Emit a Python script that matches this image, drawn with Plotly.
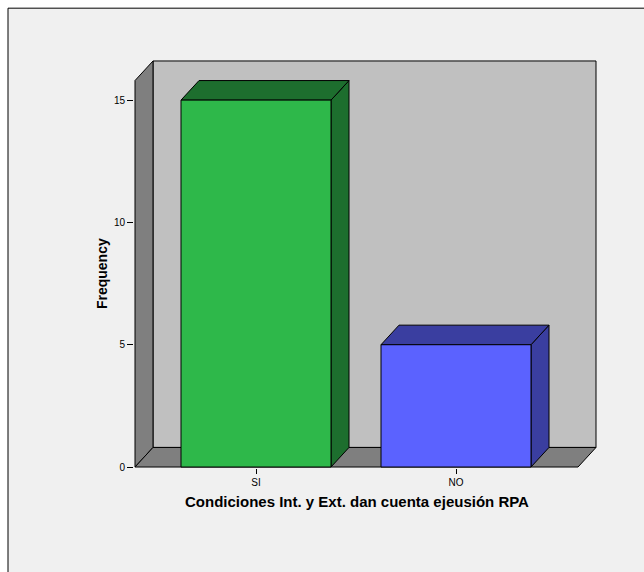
import plotly.graph_objects as go

# Frequency chart: "Condiciones Int. y Ext. dan cuenta ejeusión RPA"
categories = ["SI", "NO"]
frequencies = [15, 5]
front_colors = ["#2eb84a", "#5b62ff"]
shade_colors = ["#1d6e2e", "#3a3ea0"]
y_tick_values = [0, 5, 10, 15]

# Figure size and 3D-box geometry (in axis units)
W, H = 644, 572
bar_w = 0.75          # bar width in category units
depth_x = 0.09        # depth offset of the 3D box along x
depth_y = 0.8         # depth offset of the 3D box along y
x_left, x_right = -0.605, 1.61   # front floor edges
y_top = 15.8                     # top of the front wall

x_range = [x_left - 0.005, x_right + depth_x + 0.005]
y_range = [-0.04, y_top + depth_y + 0.04]

px_per_x = 200.0
px_per_y = 24.47
plot_w = (x_range[1] - x_range[0]) * px_per_x
plot_h = (y_range[1] - y_range[0]) * px_per_y
m_l = 134
m_b = 104
m_r = W - m_l - plot_w
m_t = H - m_b - plot_h

fig = go.Figure()


def poly(xs, ys, color):
    fig.add_trace(go.Scatter(
        x=list(xs) + [xs[0]], y=list(ys) + [ys[0]],
        mode="lines", fill="toself", fillcolor=color,
        line=dict(color="black", width=1),
        hoverinfo="skip", showlegend=False,
    ))


# Back wall, left wall and floor of the box
poly([x_left + depth_x, x_right + depth_x, x_right + depth_x, x_left + depth_x],
     [depth_y, depth_y, y_top + depth_y, y_top + depth_y], "#c0c0c0")
poly([x_left, x_left + depth_x, x_left + depth_x, x_left],
     [0, depth_y, y_top + depth_y, y_top], "#7f7f7f")
poly([x_left, x_right, x_right + depth_x, x_left + depth_x],
     [0, 0, depth_y, depth_y], "#7f7f7f")

# 3D bars: side face, top face, front face
for i, (cat, val) in enumerate(zip(categories, frequencies)):
    x0, x1 = i - bar_w / 2, i + bar_w / 2
    poly([x1, x1 + depth_x, x1 + depth_x, x1],
         [0, depth_y, val + depth_y, val], shade_colors[i])
    poly([x0, x1, x1 + depth_x, x0 + depth_x],
         [val, val, val + depth_y, val + depth_y], shade_colors[i])
    poly([x0, x1, x1, x0], [0, 0, val, val], front_colors[i])


def px_to_paper_x(px):
    return (px - m_l) / plot_w


def px_to_paper_y(py):
    return (H - m_b - py) / plot_h


# Outer frame around the chart
fig.add_shape(type="rect", xref="paper", yref="paper",
              x0=px_to_paper_x(8), x1=px_to_paper_x(W + 20),
              y0=px_to_paper_y(H + 20), y1=px_to_paper_y(8),
              line=dict(color="black", width=1), fillcolor="#f0f0f0",
              layer="below")

font = "Arial, 'Liberation Sans', sans-serif"

fig.update_layout(
    width=W, height=H,
    margin=dict(l=m_l, r=m_r, t=m_t, b=m_b, pad=0),
    paper_bgcolor="white",
    plot_bgcolor="rgba(0,0,0,0)",
    showlegend=False,
    xaxis=dict(
        range=x_range, showgrid=False, zeroline=False, showline=False,
        tickmode="array", tickvals=list(range(len(categories))), ticktext=categories,
        ticks="outside", ticklen=5, tickcolor="black",
        tickfont=dict(family=font, size=10, color="black"),
        fixedrange=True,
    ),
    yaxis=dict(
        range=y_range, showgrid=False, zeroline=False, showline=False,
        tickmode="array", tickvals=y_tick_values,
        ticks="outside", ticklen=6, tickcolor="black",
        tickfont=dict(family=font, size=10, color="black"),
        fixedrange=True,
    ),
    annotations=[
        dict(text="<b>Condiciones Int. y Ext. dan cuenta ejeusión RPA</b>",
             xref="paper", yref="paper",
             x=px_to_paper_x(357), y=px_to_paper_y(502),
             xanchor="center", yanchor="middle", showarrow=False,
             font=dict(family=font, size=15, color="black")),
        dict(text="<b>Frequency</b>",
             xref="paper", yref="paper",
             x=px_to_paper_x(102), y=px_to_paper_y(274),
             xanchor="center", yanchor="middle", showarrow=False, textangle=-90,
             font=dict(family=font, size=14, color="black")),
    ],
)

fig.write_html("out.html", config={"displayModeBar": False})
